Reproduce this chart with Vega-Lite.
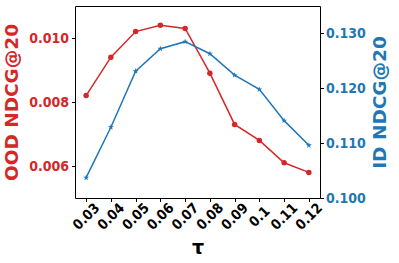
{
  "$schema": "https://vega.github.io/schema/vega-lite/v6.json",
  "width": 245,
  "height": 192,
  "autosize": "none",
  "padding": {"left": 75, "top": 6, "right": 79, "bottom": 65},
  "background": "white",
  "data": {
    "values": [
      {"tau": "0.03", "ood": 0.0082, "id": 0.1037},
      {"tau": "0.04", "ood": 0.0094, "id": 0.1129},
      {"tau": "0.05", "ood": 0.0102, "id": 0.1231},
      {"tau": "0.06", "ood": 0.0104, "id": 0.1272},
      {"tau": "0.07", "ood": 0.0103, "id": 0.1285},
      {"tau": "0.08", "ood": 0.0089, "id": 0.1263},
      {"tau": "0.09", "ood": 0.0073, "id": 0.1224},
      {"tau": "0.1", "ood": 0.0068, "id": 0.1198},
      {"tau": "0.11", "ood": 0.0061, "id": 0.1141},
      {"tau": "0.12", "ood": 0.0058, "id": 0.1096}
    ]
  },
  "encoding": {
    "x": {
      "field": "tau",
      "type": "ordinal",
      "sort": null,
      "scale": {"type": "point", "padding": 0.45},
      "axis": {
        "orient": "bottom",
        "title": "τ",
        "titleFont": "DejaVu Sans",
        "titleFontWeight": "bold",
        "titleFontSize": 19,
        "titleColor": "black",
        "titleBaseline": "alphabetic",
        "titleY": 55,
        "labelAngle": -45,
        "labelAlign": "center",
        "labelBaseline": "middle",
        "labelPadding": 15,
        "labelColor": "black"
      }
    }
  },
  "layer": [
    {
      "mark": {"type": "line", "color": "#d62728", "strokeWidth": 1.5},
      "encoding": {
        "y": {
          "field": "ood",
          "type": "quantitative",
          "scale": {"domain": [0.005, 0.011], "nice": false, "zero": false},
          "axis": {
            "orient": "left",
            "title": "OOD NDCG@20",
            "values": [0.006, 0.008, 0.010],
            "format": ".3f",
            "labelColor": "#d62728",
            "titleColor": "#d62728",
            "titleAngle": -90,
            "titleBaseline": "alphabetic",
            "titleX": -57.5,
            "labelPadding": 3
          }
        }
      }
    },
    {
      "mark": {"type": "point", "filled": true, "size": 30, "color": "#d62728", "opacity": 1},
      "encoding": {
        "y": {"field": "ood", "type": "quantitative", "scale": {"domain": [0.005, 0.011], "nice": false, "zero": false}, "axis": null}
      }
    },
    {
      "mark": {"type": "line", "color": "#1f77b4", "strokeWidth": 1.5},
      "encoding": {
        "y": {
          "field": "id",
          "type": "quantitative",
          "scale": {"domain": [0.1, 0.135], "nice": false, "zero": false},
          "axis": {
            "orient": "right",
            "title": "ID NDCG@20",
            "values": [0.1, 0.11, 0.12, 0.13],
            "format": ".3f",
            "labelColor": "#1f77b4",
            "titleColor": "#1f77b4",
            "titleAngle": -90,
            "titleBaseline": "alphabetic",
            "titleX": 65.5,
            "labelPadding": 2
          }
        }
      }
    },
    {
      "mark": {"type": "point", "filled": true, "shape": "M0,-1L0.2245,-0.309L0.951,-0.309L0.363,0.118L0.588,0.809L0,0.382L-0.588,0.809L-0.363,0.118L-0.951,-0.309L-0.2245,-0.309Z", "size": 40, "color": "#1f77b4", "opacity": 1},
      "encoding": {
        "y": {"field": "id", "type": "quantitative", "scale": {"domain": [0.1, 0.135], "nice": false, "zero": false}, "axis": null}
      }
    }
  ],
  "resolve": {"scale": {"y": "independent"}, "axis": {"y": "independent"}},
  "config": {
    "view": {"stroke": "black", "strokeWidth": 1},
    "axis": {
      "domain": false,
      "grid": false,
      "ticks": true,
      "tickColor": "black",
      "tickSize": 3.5,
      "tickWidth": 1,
      "labelFont": "DejaVu Sans Condensed",
      "labelFontWeight": "bold",
      "labelFontSize": 14,
      "titleFont": "DejaVu Sans",
      "titleFontWeight": "bold",
      "titleFontSize": 18.5
    }
  }
}
